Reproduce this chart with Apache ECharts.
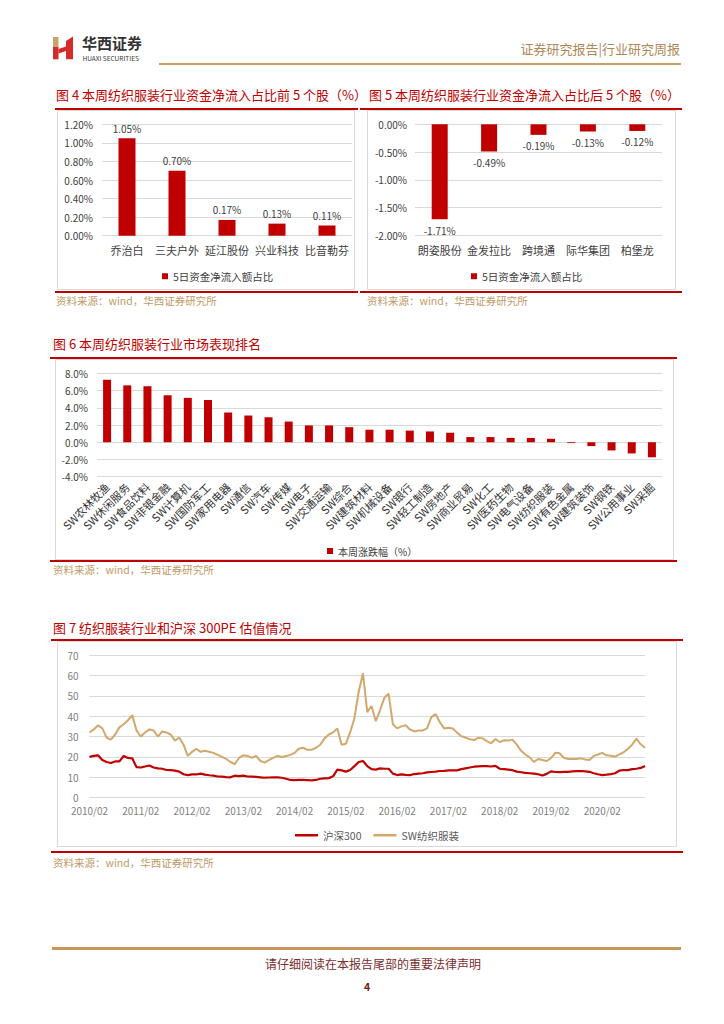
<!DOCTYPE html>
<html><head><meta charset="utf-8">
<script src="https://cdn.jsdelivr.net/npm/echarts/dist/echarts.min.js"></script>
<style>html,body{margin:0;padding:0;background:#fff;}#main{width:724px;height:1024px;}</style>
</head><body><div id="main"></div>
<script>
// ---- Data ----
const fig4Stocks = ['乔治白','三夫户外','延江股份','兴业科技','比音勒芬'];
const fig4Values = [1.05, 0.70, 0.17, 0.13, 0.11];
const fig4Ticks = [0, 0.2, 0.4, 0.6, 0.8, 1.0, 1.2];

const fig5Stocks = ['朗姿股份','金发拉比','跨境通','际华集团','柏堡龙'];
const fig5Values = [-1.71, -0.49, -0.19, -0.13, -0.12];
const fig5Ticks = [-2.0, -1.5, -1.0, -0.5, 0];

const fig6Sectors = ['SW农林牧渔','SW休闲服务','SW食品饮料','SW非银金融','SW计算机','SW国防军工','SW家用电器','SW通信','SW汽车','SW传媒','SW电子','SW交通运输','SW综合','SW建筑材料','SW机械设备','SW银行','SW轻工制造','SW房地产','SW商业贸易','SW化工','SW医药生物','SW电气设备','SW纺织服装','SW有色金属','SW建筑装饰','SW钢铁','SW公用事业','SW采掘'];
const fig6Values = [7.25,6.6,6.5,5.45,5.15,4.9,3.45,3.1,2.9,2.4,1.95,1.95,1.75,1.45,1.45,1.35,1.25,1.1,0.6,0.6,0.5,0.5,0.4,-0.1,-0.45,-0.95,-1.3,-1.75];
const fig6Ticks = [-4, -2, 0, 2, 4, 6, 8];

const fig7YearTicks = ['2010/02','2011/02','2012/02','2013/02','2014/02','2015/02','2016/02','2017/02','2018/02','2019/02','2020/02'];
const hs300PE = [20,20.5,20.8,18.5,17.5,17,17.8,17.8,20.5,19.5,
 19.3,15,14.8,15.3,15.8,14.8,14.4,14.2,13.6,13.5,
 13.3,12.8,11.5,11.1,11.4,11.4,11.8,11.3,11,10.8,
 10.4,10.3,10.1,10,10.8,10.6,10.8,10.4,10.3,10.2,
 10,9.8,9.9,10,10,9.8,9.3,8.7,8.6,8.7,
 8.7,8.6,8.5,8.7,9.3,9.5,9.6,10.5,13.8,13.4,
 12.8,13.6,15.5,17.5,18,15.5,14,13.8,14.4,14.2,
 14.2,11.8,11.1,11.4,11.2,11.1,11.6,11.8,12,12.4,
 12.6,12.8,13.1,13.2,13.4,13.4,13.4,14,14.4,14.8,
 15.2,15.4,15.5,15.5,15.3,15.6,14.2,14,13.8,13.5,
 12.8,12.5,12.2,12,11.8,11.5,10.9,11.7,12.9,12.6,
 12.5,12.7,12.7,12.9,13,13.1,12.9,12.7,12,11.5,
 11.1,11.3,11.6,12,13.3,13.6,13.5,14,14.2,14.6,
 15.6];
const swTextilePE = [32,33.5,35.5,34,29.5,28.5,31,34.5,36,38,
 40.5,33,30,32,33.5,33,30,32.5,32,31,
 28,29.5,26,20.5,22.5,24,22.5,23,22.5,22,
 21,20,19,17.5,16.5,19.5,20.8,20.5,19.5,20.5,
 18,17.2,18.5,19.5,20.5,20,20.5,21,22,24,
 24.5,23.5,23.5,24.5,26,29,31,32,34,26,
 26.5,32,39,52,61,42,45,37.5,43,49,
 51,36,34,35,35.5,33.5,32.5,33,33,34,
 39.5,41,37,34,34.3,34,32,30.2,29.5,28.7,
 28.3,29.4,29.1,27.8,26.7,28.8,27.3,28.2,28,28.5,
 26,23,21.2,19.8,17.6,19,18.5,18,19.4,22,
 21.8,19.6,19,19,19,19.3,18.7,18.5,20.5,21.2,
 22,20.8,20.6,20.1,21.2,22.3,24,26,29,26.2,
 24.5];

// monthly category labels 2010/02 .. 2020/12
const fig7Months = [];
for (let i = 0; i < hs300PE.length; i++) {
  const t = i + 1;
  const y = 2010 + Math.floor(t / 12);
  const m = (t % 12) + 1;
  fig7Months.push(y + '/' + (m < 10 ? '0' + m : m));
}

// ---- Styles ----
const RED = '#C00000';
const GOLD = '#D2A86C';
const FONT = '"Noto Sans CJK SC", "Noto Sans", sans-serif';
const GRID_LINE = '#D9D9D9';
const SRC_COLOR = '#BE9A67';

const chart = echarts.init(document.getElementById('main'), null, {renderer: 'svg'});

function txt(text, x, y, size, color, opts) {
  return Object.assign({
    type: 'text', x: x, y: y, silent: true,
    style: Object.assign({text: text, fill: color, font: size + 'px ' + FONT,
      align: 'left', verticalAlign: 'middle', textAlign: 'left', textVerticalAlign: 'middle'}, (opts && opts.style) || {})
  }, (opts && opts.el) || {});
}
function rect(x, y, w, h, fill) {
  return {type: 'rect', silent: true, shape: {x: x, y: y, width: w, height: h}, style: {fill: fill}};
}
function box(x, y, w, h) {
  return {type: 'rect', silent: true, shape: {x: x, y: y, width: w, height: h}, style: {fill: 'none', stroke: GRID_LINE, lineWidth: 1}};
}

const graphics = [
  // logo
  rect(53, 37, 5.5, 10, '#C8A46A'),
  rect(53, 47, 5.5, 12.3, '#D42A2A'),
  {type: 'polygon', silent: true, shape: {points: [[58.5, 49], [66, 46.5], [66, 51], [58.5, 53.5]]}, style: {fill: '#D42A2A'}},
  {type: 'polygon', silent: true, shape: {points: [[66, 41], [73, 36.5], [73, 59.3], [66, 59.3]]}, style: {fill: '#D42A2A'}},
  txt('华西证券', 82, 42.5, 15, '#333333', {style: {font: 'bold 15px ' + FONT}}),
  txt('HUAXI SECURITIES', 82.5, 57.5, 6.5, '#333333'),
  txt('证券研究报告|行业研究周报', 680, 48, 13, '#B08858', {style: {align: 'right', textAlign: 'right'}}),
  rect(159, 63, 522, 2, '#C9A068'),

  // fig 4 frame
  txt('图 4 本周纺织服装行业资金净流入占比前 5 个股（%）', 56, 94, 13, RED),
  rect(55, 108, 303, 2, RED),
  box(57.5, 110.5, 297, 179),
  rect(55, 291, 303, 2, RED),
  txt('资料来源：wind，华西证券研究所', 56, 300, 10.5, SRC_COLOR),

  // fig 5 frame
  txt('图 5 本周纺织服装行业资金净流入占比后 5 个股（%）', 369, 94, 13, RED),
  rect(360, 108, 322, 2, RED),
  box(367.5, 110.5, 308, 179),
  rect(360, 291, 322, 2, RED),
  txt('资料来源：wind，华西证券研究所', 367, 300, 10.5, SRC_COLOR),

  // fig 6 frame
  txt('图 6 本周纺织服装行业市场表现排名', 53, 343, 13, RED),
  rect(50, 357, 627, 2, RED),
  box(55.5, 359.5, 618, 200),
  rect(50, 560, 627, 2, RED),
  txt('资料来源：wind，华西证券研究所', 53, 569, 10.5, SRC_COLOR),

  // fig 7 frame
  txt('图 7 纺织服装行业和沪深 300PE 估值情况', 53, 627, 13, RED),
  rect(51, 639, 632, 2, RED),
  box(57.5, 641.5, 619, 205),
  rect(51, 851, 632, 2, RED),
  txt('资料来源：wind，华西证券研究所', 53, 862, 10.5, SRC_COLOR),

  // footer
  rect(52, 947, 629, 3, '#C8955A'),
  txt('请仔细阅读在本报告尾部的重要法律声明', 373, 963, 12, '#7A2E2E', {style: {align: 'center', textAlign: 'center'}}),
  txt('4', 367, 986, 10.5, '#6B1F1F', {style: {align: 'center', textAlign: 'center', font: 'bold 10.5px ' + FONT}})
];

const axisLabelDark = {color: '#404040', fontSize: 10, fontFamily: FONT};

const option = {
  backgroundColor: '#ffffff',
  animation: false,
  textStyle: {fontFamily: FONT},
  grid: [
    {left: 102, top: 124.3, width: 250, height: 111.4, containLabel: false},
    {left: 415, top: 124.3, width: 247, height: 111, containLabel: false},
    {left: 97, top: 373.3, width: 565, height: 103.4, containLabel: false},
    {left: 89.5, top: 655, width: 555.5, height: 142.7, containLabel: false}
  ],
  xAxis: [
    {gridIndex: 0, type: 'category', data: fig4Stocks, axisLine: {show: false}, axisTick: {show: false},
     axisLabel: {color: '#404040', fontSize: 11, margin: 9, interval: 0, fontFamily: FONT}},
    {gridIndex: 1, type: 'category', data: fig5Stocks, position: 'bottom', axisLine: {show: false, onZero: false}, axisTick: {show: false},
     axisLabel: {color: '#404040', fontSize: 11, margin: 9, interval: 0, fontFamily: FONT}},
    {gridIndex: 2, type: 'category', data: fig6Sectors, axisLine: {show: false, onZero: false}, axisTick: {show: false},
     axisLabel: {color: '#333333', fontSize: 11, margin: 8, rotate: 45, interval: 0, fontFamily: FONT}},
    {gridIndex: 3, type: 'category', data: fig7Months, boundaryGap: false, axisLine: {show: false}, axisTick: {show: false},
     axisLabel: {color: '#7F7F7F', fontSize: 10, margin: 8, fontFamily: FONT,
       interval: function (idx, val) { return fig7YearTicks.indexOf(val) >= 0; }}}
  ],
  yAxis: [
    {gridIndex: 0, type: 'value', min: fig4Ticks[0], max: fig4Ticks[fig4Ticks.length - 1], interval: 0.2,
     axisLine: {show: false}, axisTick: {show: false}, splitLine: {lineStyle: {color: GRID_LINE}},
     axisLabel: Object.assign({margin: 9, formatter: v => v.toFixed(2) + '%'}, axisLabelDark)},
    {gridIndex: 1, type: 'value', min: fig5Ticks[0], max: fig5Ticks[fig5Ticks.length - 1], interval: 0.5,
     axisLine: {show: false}, axisTick: {show: false}, splitLine: {lineStyle: {color: GRID_LINE}},
     axisLabel: Object.assign({margin: 8, formatter: v => v.toFixed(2) + '%'}, axisLabelDark)},
    {gridIndex: 2, type: 'value', min: fig6Ticks[0], max: fig6Ticks[fig6Ticks.length - 1], interval: 2,
     axisLine: {show: false}, axisTick: {show: false}, splitLine: {lineStyle: {color: GRID_LINE}},
     axisLabel: Object.assign({margin: 9, formatter: v => v.toFixed(1) + '%'}, axisLabelDark)},
    {gridIndex: 3, type: 'value', min: 0, max: 70, interval: 10,
     axisLine: {show: false}, axisTick: {show: false}, splitLine: {lineStyle: {color: GRID_LINE}},
     axisLabel: {color: '#7F7F7F', fontSize: 10, margin: 11, fontFamily: FONT}}
  ],
  legend: [
    {data: [{name: '5日资金净流入额占比', icon: 'rect'}], left: 157, top: 266, itemWidth: 6, itemHeight: 6, itemGap: 4,
     textStyle: {color: '#404040', fontSize: 10.5, fontFamily: FONT}, selectedMode: false},
    {data: [{name: '5日资金净流入额占比 ', icon: 'rect'}], left: 466, top: 266, itemWidth: 6, itemHeight: 6,
     textStyle: {color: '#404040', fontSize: 10.5, fontFamily: FONT}, selectedMode: false},
    {data: [{name: '本周涨跌幅（%）', icon: 'rect'}], left: 322, top: 541, itemWidth: 6, itemHeight: 6,
     textStyle: {color: '#404040', fontSize: 10, fontFamily: FONT}, selectedMode: false},
    {data: [{name: '沪深300', icon: 'rect'}, {name: 'SW纺织服装', icon: 'rect'}], left: 290, top: 825,
     itemWidth: 23, itemHeight: 2.5, itemGap: 12,
     textStyle: {color: '#595959', fontSize: 10.5, fontFamily: FONT}, selectedMode: false}
  ],
  series: [
    {name: '5日资金净流入额占比', type: 'bar', xAxisIndex: 0, yAxisIndex: 0, data: fig4Values, barWidth: 17,
     itemStyle: {color: RED},
     label: {show: true, position: 'top', distance: 5, color: '#404040', fontSize: 10, fontFamily: FONT,
       formatter: p => p.value.toFixed(2) + '%'}},
    {name: '5日资金净流入额占比 ', type: 'bar', xAxisIndex: 1, yAxisIndex: 1, data: fig5Values, barWidth: 16,
     itemStyle: {color: RED},
     label: {show: true, position: 'bottom', distance: 6, color: '#404040', fontSize: 10, fontFamily: FONT,
       formatter: p => p.value.toFixed(2) + '%'}},
    {name: '本周涨跌幅（%）', type: 'bar', xAxisIndex: 2, yAxisIndex: 2, data: fig6Values, barWidth: 8,
     itemStyle: {color: RED}},
    {name: '沪深300', type: 'line', xAxisIndex: 3, yAxisIndex: 3, data: hs300PE, symbol: 'none',
     lineStyle: {color: RED, width: 2.2}, itemStyle: {color: RED}},
    {name: 'SW纺织服装', type: 'line', xAxisIndex: 3, yAxisIndex: 3, data: swTextilePE, symbol: 'none',
     lineStyle: {color: GOLD, width: 2}, itemStyle: {color: GOLD}}
  ],
  graphic: graphics
};
chart.setOption(option);
</script>
</body></html>
